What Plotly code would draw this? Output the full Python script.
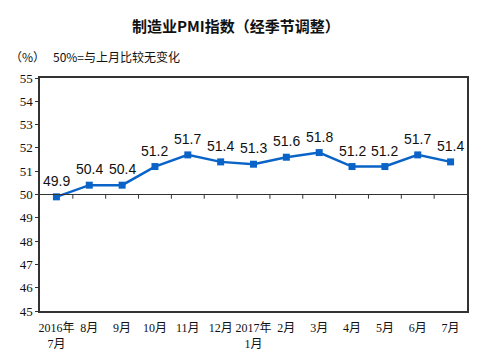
import plotly.graph_objects as go

categories = ["2016年<br>7月", "8月", "9月", "10月", "11月", "12月", "2017年<br>1月",
              "2月", "3月", "4月", "5月", "6月", "7月"]
pmi_values = [49.9, 50.4, 50.4, 51.2, 51.7, 51.4, 51.3, 51.6, 51.8, 51.2, 51.2, 51.7, 51.4]
y_ticks = [45, 46, 47, 48, 49, 50, 51, 52, 53, 54, 55]
baseline = 50

n = len(categories)
xs = list(range(n))
line_color = "#0A64C8"
axis_color = "#333333"

fig = go.Figure()

# baseline at 50 with tick marks between categories
fig.add_shape(type="line", xref="paper", yref="y", x0=0, x1=1, y0=baseline, y1=baseline,
              line=dict(color=axis_color, width=1.2), layer="above")
for i in range(n - 1):
    fig.add_shape(type="line", xref="x", yref="y", x0=i + 0.5, x1=i + 0.5,
                  y0=baseline, y1=baseline - 0.18, line=dict(color=axis_color, width=1), layer="above")

fig.add_trace(go.Scatter(
    x=xs, y=pmi_values, mode="lines+markers",
    line=dict(color=line_color, width=2.5),
    marker=dict(symbol="square", size=7, color=line_color),
    hoverinfo="skip", showlegend=False,
))

for x, v in zip(xs, pmi_values):
    fig.add_annotation(x=x, y=v, text=f"{v:.1f}", showarrow=False, yshift=16,
                       font=dict(family="Liberation Sans, Arial", size=14, color="#111111"))

# page has an 8px body margin, so the figure is sized to fit the 489x361 window
fig.update_layout(
    width=481, height=353,
    margin=dict(l=32, r=22, t=70, b=50, autoexpand=False),
    paper_bgcolor="white", plot_bgcolor="white",
    xaxis=dict(
        range=[-0.5, n - 0.5], tickvals=xs, ticktext=categories, automargin=False,
        showgrid=False, zeroline=False, ticks="", ticklabelstandoff=5,
        showline=True, linecolor=axis_color, linewidth=1.5, mirror=True,
        tickfont=dict(family="Liberation Serif, Times New Roman, Noto Sans CJK SC", size=12, color="#111111"),
    ),
    yaxis=dict(
        range=[45, 55], tickvals=y_ticks, ticktext=[str(t) for t in y_ticks], automargin=False,
        showgrid=False, zeroline=False, ticks="outside", ticklen=3, tickcolor=axis_color,
        showline=True, linecolor=axis_color, linewidth=1.5, mirror=True,
        tickfont=dict(family="Liberation Serif, Times New Roman", size=13, color="#111111"),
    ),
)

fig.add_annotation(text="<b>制造业PMI指数（经季节调整）</b>", xref="paper", yref="paper",
                   x=0.46, y=1, yshift=53, xanchor="center", yanchor="middle", showarrow=False,
                   font=dict(family="Noto Sans CJK SC", size=15, color="#111111"))
fig.add_annotation(text="（%）", xref="paper", yref="paper", x=0, xshift=-32, y=1, yshift=22,
                   xanchor="left", yanchor="middle", showarrow=False,
                   font=dict(family="Noto Sans CJK SC", size=12, color="#111111"))
fig.add_annotation(text="50%=与上月比较无变化", xref="paper", yref="paper", x=0, xshift=11, y=1, yshift=22,
                   xanchor="left", yanchor="middle", showarrow=False,
                   font=dict(family="Noto Sans CJK SC", size=12, color="#111111"))

fig.write_html("out.html")
